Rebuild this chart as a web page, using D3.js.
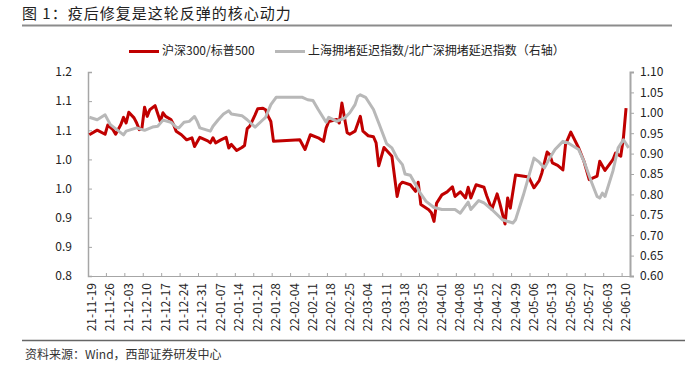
<!DOCTYPE html>
<html>
<head>
<meta charset="utf-8">
<script src="https://cdn.jsdelivr.net/npm/d3@7/dist/d3.min.js"></script>
<style>
  html, body { margin: 0; padding: 0; background: #fff; }
  svg text { font-family: "Noto Sans CJK SC", "Liberation Sans", sans-serif; }
</style>
</head>
<body>
<svg id="chart" width="692" height="368"></svg>
<script>
// ---------- DATA ----------
const titleText = "图 1：疫后修复是这轮反弹的核心动力";
const sourceText = "资料来源：Wind，西部证券研发中心";
const seriesNames = ["沪深300/标普500", "上海拥堵延迟指数/北广深拥堵延迟指数（右轴）"];

const xTickLabels = ["21-11-19","21-11-26","21-12-03","21-12-10","21-12-17","21-12-24","21-12-31",
  "22-01-07","22-01-14","22-01-21","22-01-28","22-02-04","22-02-11","22-02-18","22-02-25",
  "22-03-04","22-03-11","22-03-18","22-03-25","22-04-01","22-04-08","22-04-15","22-04-22",
  "22-04-29","22-05-06","22-05-13","22-05-20","22-05-27","22-06-03","22-06-10"];

const leftTicks = [0.8, 0.8571, 0.9143, 0.9714, 1.0286, 1.0857, 1.1429, 1.2];
const rightTicks = [0.60, 0.65, 0.70, 0.75, 0.80, 0.85, 0.90, 0.95, 1.00, 1.05, 1.10];

// 沪深300/标普500 (left axis)
const ratioData = [
  ["2021-11-18",1.077],["2021-11-21",1.086],["2021-11-24",1.078],["2021-11-25",1.096],
  ["2021-11-27",1.087],["2021-11-28",1.078],["2021-11-30",1.097],["2021-12-01",1.111],
  ["2021-12-02",1.100],["2021-12-03",1.121],["2021-12-05",1.110],["2021-12-06",1.100],
  ["2021-12-07",1.087],["2021-12-08",1.090],["2021-12-09",1.131],["2021-12-10",1.113],
  ["2021-12-11",1.126],["2021-12-13",1.134],["2021-12-15",1.103],["2021-12-16",1.120],
  ["2021-12-17",1.113],["2021-12-19",1.107],["2021-12-20",1.097],["2021-12-21",1.084],
  ["2021-12-23",1.077],["2021-12-25",1.067],["2021-12-27",1.071],["2021-12-28",1.054],
  ["2021-12-30",1.072],["2022-01-02",1.065],["2022-01-03",1.061],["2022-01-04",1.071],
  ["2022-01-05",1.061],["2022-01-07",1.067],["2022-01-09",1.072],["2022-01-10",1.051],
  ["2022-01-11",1.058],["2022-01-13",1.046],["2022-01-15",1.052],["2022-01-16",1.056],
  ["2022-01-17",1.089],["2022-01-18",1.094],["2022-01-20",1.116],["2022-01-21",1.128],
  ["2022-01-23",1.129],["2022-01-24",1.126],["2022-01-25",1.113],["2022-01-26",1.103],
  ["2022-01-27",1.064],["2022-02-06",1.067],["2022-02-08",1.048],["2022-02-10",1.077],
  ["2022-02-13",1.071],["2022-02-15",1.064],["2022-02-16",1.090],["2022-02-17",1.103],
  ["2022-02-20",1.107],["2022-02-21",1.100],["2022-02-22",1.139],["2022-02-24",1.081],
  ["2022-02-25",1.078],["2022-02-27",1.084],["2022-03-01",1.113],["2022-03-02",1.084],
  ["2022-03-04",1.075],["2022-03-06",1.073],["2022-03-07",1.061],["2022-03-08",1.016],
  ["2022-03-10",1.052],["2022-03-13",1.035],["2022-03-15",0.956],["2022-03-16",0.979],
  ["2022-03-17",0.984],["2022-03-20",0.979],["2022-03-22",0.966],["2022-03-23",0.984],
  ["2022-03-24",0.940],["2022-03-27",0.930],["2022-03-28",0.924],["2022-03-29",0.907],
  ["2022-03-30",0.943],["2022-04-01",0.959],["2022-04-03",0.965],["2022-04-05",0.975],
  ["2022-04-06",0.956],["2022-04-08",0.965],["2022-04-10",0.953],["2022-04-11",0.974],
  ["2022-04-12",0.953],["2022-04-14",0.979],["2022-04-17",0.974],["2022-04-18",0.958],
  ["2022-04-20",0.931],["2022-04-22",0.961],["2022-04-23",0.943],["2022-04-25",0.902],
  ["2022-04-26",0.953],["2022-04-27",0.933],["2022-04-29",0.998],["2022-05-04",0.994],
  ["2022-05-06",0.973],["2022-05-08",0.987],["2022-05-09",1.002],["2022-05-11",1.043],
  ["2022-05-12",1.038],["2022-05-13",1.022],["2022-05-15",1.017],["2022-05-17",1.008],
  ["2022-05-18",1.058],["2022-05-20",1.082],["2022-05-23",1.051],["2022-05-25",1.025],
  ["2022-05-27",0.989],["2022-05-30",0.996],["2022-05-31",1.025],["2022-06-02",1.007],
  ["2022-06-05",1.028],["2022-06-06",1.041],["2022-06-08",1.035],["2022-06-09",1.071],
  ["2022-06-10",1.129]
];

// 上海拥堵延迟指数/北广深拥堵延迟指数 (right axis)
const congestionData = [
  ["2021-11-18",0.989],["2021-11-21",0.983],["2021-11-24",0.995],["2021-11-26",0.971],
  ["2021-12-01",0.946],["2021-12-02",0.955],["2021-12-06",0.963],["2021-12-09",0.957],
  ["2021-12-12",0.965],["2021-12-14",0.967],["2021-12-16",0.982],["2021-12-19",0.977],
  ["2021-12-21",0.965],["2021-12-22",0.963],["2021-12-24",0.977],["2021-12-26",0.979],
  ["2021-12-28",0.991],["2021-12-29",0.979],["2021-12-30",0.963],["2022-01-03",0.955],
  ["2022-01-04",0.967],["2022-01-06",0.983],["2022-01-08",0.997],["2022-01-10",1.005],
  ["2022-01-11",0.997],["2022-01-15",0.993],["2022-01-17",0.983],["2022-01-20",0.965],
  ["2022-01-23",0.983],["2022-01-24",0.989],["2022-01-26",1.020],["2022-01-28",1.038],
  ["2022-02-07",1.038],["2022-02-09",1.032],["2022-02-11",1.030],["2022-02-13",1.008],
  ["2022-02-16",0.977],["2022-02-17",0.989],["2022-02-20",0.979],["2022-02-23",0.987],
  ["2022-02-25",1.000],["2022-02-27",1.020],["2022-02-28",1.040],["2022-03-01",1.044],
  ["2022-03-03",1.038],["2022-03-06",1.008],["2022-03-08",0.975],["2022-03-11",0.924],
  ["2022-03-13",0.914],["2022-03-15",0.889],["2022-03-17",0.873],["2022-03-18",0.850],
  ["2022-03-20",0.847],["2022-03-22",0.824],["2022-03-24",0.801],["2022-03-26",0.783],
  ["2022-03-29",0.768],["2022-04-01",0.763],["2022-04-06",0.763],["2022-04-08",0.754],
  ["2022-04-11",0.781],["2022-04-12",0.763],["2022-04-15",0.785],["2022-04-17",0.779],
  ["2022-04-20",0.763],["2022-04-24",0.738],["2022-04-28",0.730],["2022-04-29",0.738],
  ["2022-05-02",0.799],["2022-05-06",0.889],["2022-05-08",0.879],["2022-05-10",0.865],
  ["2022-05-12",0.889],["2022-05-14",0.910],["2022-05-17",0.930],["2022-05-19",0.926],
  ["2022-05-23",0.910],["2022-05-25",0.881],["2022-05-28",0.828],["2022-05-30",0.795],
  ["2022-05-31",0.791],["2022-06-01",0.803],["2022-06-02",0.795],["2022-06-05",0.857],
  ["2022-06-07",0.914],["2022-06-09",0.934],["2022-06-11",0.914]
];

// ---------- DRAW ----------
const svg = d3.select("#chart");
const parse = d3.utcParse("%Y-%m-%d");
const parseShort = d3.utcParse("%y-%m-%d");
const DAY = 864e5;

const plot = { left: 88, right: 630, top: 72, bottom: 276 };

const x = d3.scaleUtc()
  .domain([new Date(Date.UTC(2021, 10, 17, 12)), new Date(Date.UTC(2022, 5, 11, 12))])
  .range([plot.left, plot.right]);
const yL = d3.scaleLinear().domain([0.8, 1.2]).range([plot.bottom, plot.top]);
const yR = d3.scaleLinear().domain([0.6, 1.1]).range([plot.bottom, plot.top]);

// Title
svg.append("text").attr("x", 22).attr("y", 19)
  .attr("font-size", 15).attr("letter-spacing", 1).attr("fill", "#222")
  .text(titleText);
svg.append("line").attr("x1", 22).attr("x2", 672).attr("y1", 25.5).attr("y2", 25.5)
  .attr("stroke", "#8c8c8c").attr("stroke-width", 2);

// Footer
svg.append("line").attr("x1", 22).attr("x2", 685).attr("y1", 340.5).attr("y2", 340.5)
  .attr("stroke", "#666").attr("stroke-width", 1.5);
svg.append("text").attr("x", 25).attr("y", 359)
  .attr("font-size", 12).attr("fill", "#333")
  .text(sourceText);

// Legend
const lg = svg.append("g");
lg.append("line").attr("x1", 129).attr("x2", 159).attr("y1", 51.5).attr("y2", 51.5)
  .attr("stroke", "#c00000").attr("stroke-width", 3);
lg.append("text").attr("x", 162).attr("y", 52).attr("dominant-baseline", "middle")
  .attr("font-size", 12).attr("fill", "#222").text(seriesNames[0]);
lg.append("line").attr("x1", 275).attr("x2", 305).attr("y1", 51.5).attr("y2", 51.5)
  .attr("stroke", "#b8b8b8").attr("stroke-width", 3);
lg.append("text").attr("x", 308).attr("y", 52).attr("dominant-baseline", "middle")
  .attr("font-size", 12).attr("fill", "#222").text(seriesNames[1]);

// Left axis
const axL = svg.append("g").attr("transform", `translate(${plot.left},0)`)
  .call(d3.axisLeft(yL).tickValues(leftTicks).tickFormat(d3.format(".1f")).tickSize(-4).tickPadding(16));
axL.select(".domain").attr("stroke", "#a6a6a6").attr("stroke-width", 1.5);
axL.selectAll(".tick line").attr("stroke", "#a6a6a6");
axL.selectAll(".tick text").attr("font-size", 12).attr("fill", "#222")
  .attr("font-family", "Liberation Sans, sans-serif");

// Right axis
const axR = svg.append("g").attr("transform", `translate(${plot.right},0)`)
  .call(d3.axisRight(yR).tickValues(rightTicks).tickFormat(d3.format(".2f")).tickSize(4).tickPadding(6));
axR.select(".domain").attr("stroke", "#a6a6a6").attr("stroke-width", 2);
axR.selectAll(".tick line").attr("stroke", "#a6a6a6");
axR.selectAll(".tick text").attr("font-size", 12).attr("fill", "#222")
  .attr("font-family", "Liberation Sans, sans-serif");

// Bottom axis
const xTickDates = xTickLabels.map(s => parseShort(s));
const axB = svg.append("g").attr("transform", `translate(0,${plot.bottom})`);
axB.append("line").attr("x1", plot.left).attr("x2", plot.right).attr("y1", 0.5).attr("y2", 0.5)
  .attr("stroke", "#a6a6a6").attr("stroke-width", 1);
axB.selectAll("line.tk").data(xTickDates).join("line").attr("class", "tk")
  .attr("x1", d => x(new Date(+d + 5.5 * DAY))).attr("x2", d => x(new Date(+d + 5.5 * DAY)))
  .attr("y1", 0).attr("y2", -3).attr("stroke", "#a6a6a6");
axB.selectAll("text").data(xTickLabels).join("text")
  .attr("transform", (s, i) => `translate(${x(xTickDates[i]) + 4},${7}) rotate(-90)`)
  .attr("text-anchor", "end").attr("font-size", 12).attr("fill", "#222")
  .attr("font-family", "Liberation Sans, sans-serif")
  .text(s => s);

// Lines
const lineL = d3.line().x(d => x(parse(d[0]))).y(d => yL(d[1]));
const lineR = d3.line().x(d => x(parse(d[0]))).y(d => yR(d[1]));

svg.append("path").datum(ratioData).attr("d", lineL)
  .attr("fill", "none").attr("stroke", "#c00000").attr("stroke-width", 3)
  .attr("stroke-linejoin", "round");
svg.append("path").datum(congestionData).attr("d", lineR)
  .attr("fill", "none").attr("stroke", "#b8b8b8").attr("stroke-width", 3)
  .attr("stroke-linejoin", "round");
</script>
</body>
</html>
